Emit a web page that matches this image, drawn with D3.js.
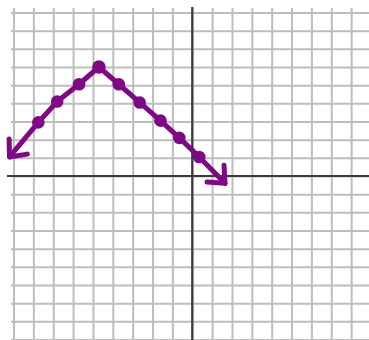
<html>

<head>
    <script src="https://d3js.org/d3.v7.min.js"></script>
    <style>
        body {
            margin: 0;
            background: #fff;
        }

        .gridlines line {
            stroke: #bdbdbd;
            stroke-width: 2;
        }

        .gridlines .domain {
            stroke: none;
        }

        .axisline {
            stroke: #3a3a3a;
            stroke-width: 2.2;
        }
    </style>
</head>

<body>
    <svg id="graph_svg" height="340" width="369"></svg>
    <script>
        // grid units, -9..9 both ways
        const gridTicks = d3.range(-9, 10);

        // hand drawn dots (grid units)
        const dotX = [-7.75, -6.8, -5.7, -4.7, -3.7, -2.65, -1.6, -0.65, 0.35];
        const dotY = [2.95, 4.1, 5.05, 6.0, 5.05, 4.05, 3.05, 2.1, 1.05];

        // where the two arrow heads end
        const arrowX = [-9.2, 1.65];
        const arrowY = [1.05, -0.4];

        const svg = d3.select("#graph_svg");
        const width = +svg.attr("width");
        const height = +svg.attr("height");

        const xScale = d3.scaleLinear().domain([-9, 9]).range([13.5, 371]);
        const yScale = d3.scaleLinear().domain([-9, 9]).range([339.5, 12.5]);

        let bottomGridlines = d3.axisBottom(xScale)
            .tickValues(gridTicks)
            .tickSize(-(height - 8))
            .tickSizeOuter(0)
            .tickFormat("");
        svg.append("g")
            .attr("class", "x gridlines")
            .attr("transform", "translate(0," + height + ")")
            .call(bottomGridlines);

        let leftGridlines = d3.axisLeft(yScale)
            .tickValues(gridTicks)
            .tickSize(-(width - 11))
            .tickSizeOuter(0)
            .tickFormat("");
        svg.append("g")
            .attr("class", "y gridlines")
            .attr("transform", "translate(11,0)")
            .call(leftGridlines);

        // the two main axes
        svg.append("line")
            .attr("class", "axisline")
            .attr("x1", 7).attr("x2", width)
            .attr("y1", yScale(0)).attr("y2", yScale(0));
        svg.append("line")
            .attr("class", "axisline")
            .attr("x1", xScale(0)).attr("x2", xScale(0))
            .attr("y1", 7).attr("y2", height);

        const purple = "#7e0885";

        let pts = dotX.map((d, i) => [d, dotY[i]]);
        let linePts = [[arrowX[0], arrowY[0]]].concat(pts).concat([[arrowX[1], arrowY[1]]]);

        let line = d3.line()
            .x(d => xScale(d[0]))
            .y(d => yScale(d[1]));

        svg.append("path")
            .attr("d", line(linePts))
            .attr("fill", "none")
            .attr("stroke", purple)
            .attr("stroke-width", 5)
            .attr("stroke-linecap", "round")
            .attr("stroke-linejoin", "round");

        // open arrow heads
        function arrowHead(tip, from) {
            let tx = xScale(tip[0]), ty = yScale(tip[1]);
            let fx = xScale(from[0]), fy = yScale(from[1]);
            let ang = Math.atan2(fy - ty, fx - tx);
            let len = 18;
            let a1 = ang + 0.72, a2 = ang - 0.72;
            let p = "M" + (tx + len * Math.cos(a1)) + "," + (ty + len * Math.sin(a1)) +
                "L" + tx + "," + ty +
                "L" + (tx + len * Math.cos(a2)) + "," + (ty + len * Math.sin(a2));
            svg.append("path")
                .attr("d", p)
                .attr("fill", "none")
                .attr("stroke", purple)
                .attr("stroke-width", 5)
                .attr("stroke-linecap", "round")
                .attr("stroke-linejoin", "round");
        }
        arrowHead([arrowX[0], arrowY[0]], pts[0]);
        arrowHead([arrowX[1], arrowY[1]], pts[pts.length - 1]);

        pts.forEach((d, i) => {
            svg.append("circle")
                .attr("cx", xScale(d[0]))
                .attr("cy", yScale(d[1]))
                .attr("r", i == 3 ? 6.8 : 6.3)
                .attr("fill", purple);
        });
    </script>
</body>

</html>
